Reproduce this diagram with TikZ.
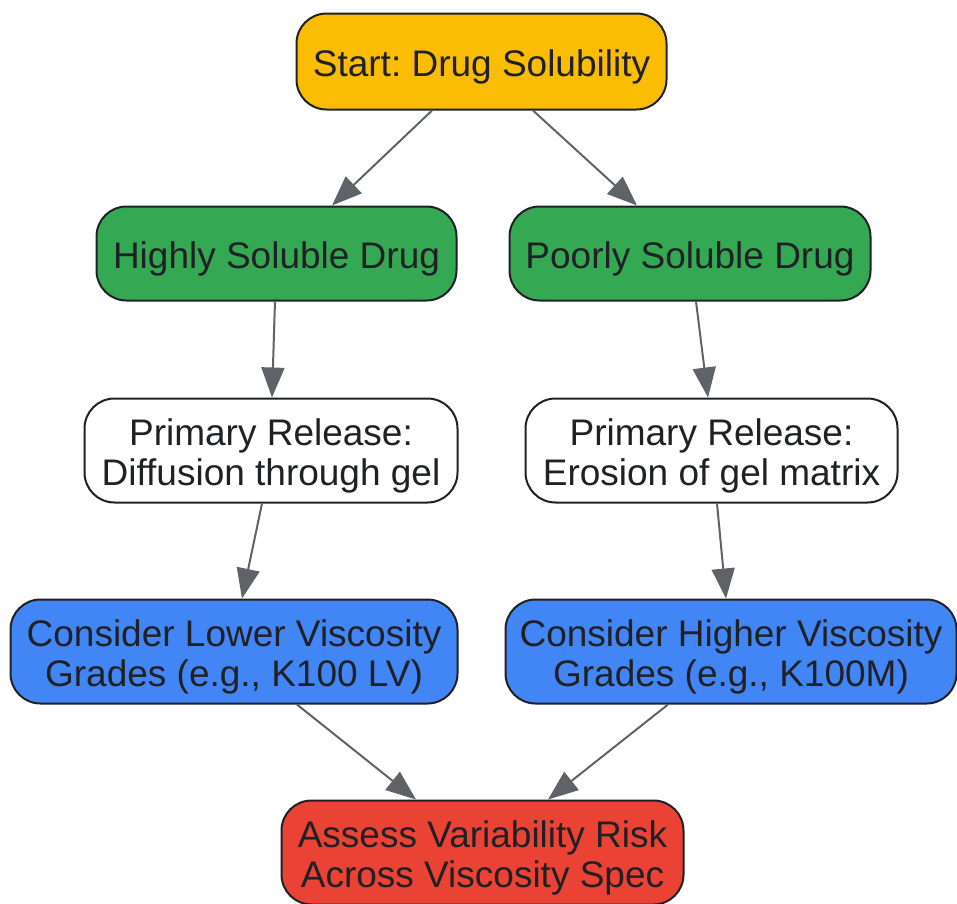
\documentclass[tikz,border=0pt]{standalone}
\usepackage{fontspec}
\setmainfont{Liberation Sans}
\frenchspacing
\usetikzlibrary{arrows.meta,calc}
\definecolor{cyellow}{HTML}{FBBC04}
\definecolor{cgreen}{HTML}{34A853}
\definecolor{cblue}{HTML}{4285F4}
\definecolor{cred}{HTML}{EA4335}
\definecolor{cborder}{HTML}{202124}
\definecolor{carrow}{HTML}{5F6368}
\tikzset{
  box/.style={draw=cborder, line width=2pt, rounded corners=30pt, inner sep=0pt,
    align=center, text=cborder, font=\fontsize{37}{40}\selectfont,
    text height=29pt, text depth=0pt},
  twoline/.style={text height=69pt, text depth=0pt},
  conn/.style={draw=carrow, line width=2pt, -{Triangle[length=30pt,width=23pt]}}
}
\begin{document}
\begin{tikzpicture}[x=1pt,y=-1pt]
\useasboundingbox (0,0) rectangle (957,903);
\node[box, fill=cyellow, minimum width=370pt, minimum height=96pt] (start) at (481.5,61.5) {Start: Drug Solubility};
\node[box, fill=cgreen, minimum width=360pt, minimum height=94pt] (high) at (276.5,253.5) {Highly Soluble Drug};
\node[box, fill=cgreen, minimum width=361pt, minimum height=94pt] (poor) at (690,253.5) {Poorly Soluble Drug};
\node[box, twoline, fill=white, minimum width=373pt, minimum height=104pt] (diff) at (271,450.5) {Primary Release:\\Diffusion through gel};
\node[box, twoline, fill=white, minimum width=372pt, minimum height=104pt] (eros) at (711.5,450.5) {Primary Release:\\Erosion of gel matrix};
\node[box, twoline, fill=cblue, minimum width=447pt, minimum height=104pt] (low) at (234,651.5) {Consider Lower Viscosity\\Grades (e.g., K100 LV)};
\node[box, twoline, fill=cblue, minimum width=451pt, minimum height=104pt] (highv) at (731,651.5) {Consider Higher Viscosity\\Grades (e.g., K100M)};
\node[box, twoline, fill=cred, minimum width=402pt, minimum height=104pt] (assess) at (482.5,852.5) {Assess Variability Risk\\Across Viscosity Spec};
\draw[conn] ([xshift=-49.5pt]start.south) -- ([xshift=55.5pt]high.north);
\draw[conn] ([xshift=51.5pt]start.south) -- ([xshift=-53pt]poor.north);
\draw[conn] ([xshift=-1.5pt]high.south) -- ([xshift=1pt]diff.north);
\draw[conn] ([xshift=6pt]poor.south) -- ([xshift=-3.5pt]eros.north);
\draw[conn] ([xshift=-9pt]diff.south) -- ([xshift=8pt]low.north);
\draw[conn] ([xshift=5.5pt]eros.south) -- ([xshift=-5pt]highv.north);
\draw[conn] ([xshift=63pt]low.south) -- ([xshift=-66.5pt]assess.north);
\draw[conn] ([xshift=-63pt]highv.south) -- ([xshift=65.5pt]assess.north);
\end{tikzpicture}
\end{document}
